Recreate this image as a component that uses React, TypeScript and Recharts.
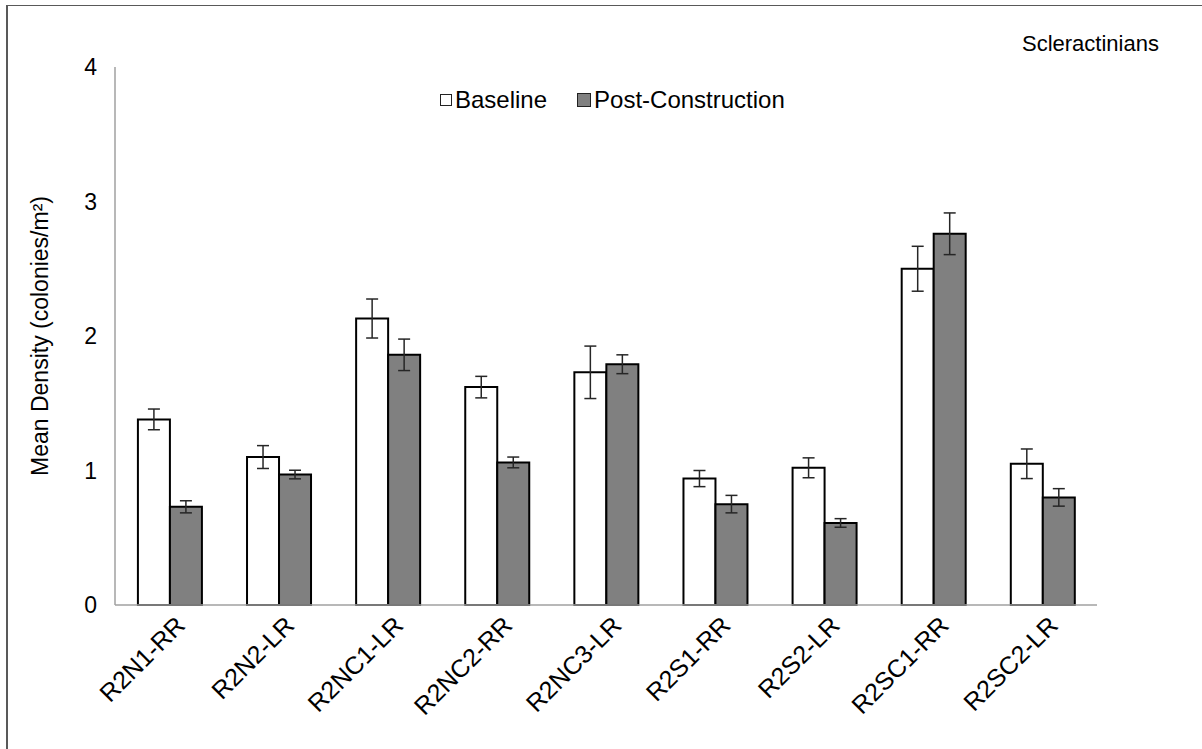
import React from 'react';
import { BarChart, Bar, XAxis, YAxis, ErrorBar } from 'recharts';

const categories = ['R2N1-RR', 'R2N2-LR', 'R2NC1-LR', 'R2NC2-RR', 'R2NC3-LR', 'R2S1-RR', 'R2S2-LR', 'R2SC1-RR', 'R2SC2-LR'];
const baseline = [1.38, 1.10, 2.13, 1.62, 1.73, 0.94, 1.02, 2.50, 1.05];
const baselineErr = [0.077, 0.085, 0.145, 0.08, 0.195, 0.06, 0.074, 0.167, 0.11];
const post = [0.73, 0.97, 1.86, 1.06, 1.79, 0.75, 0.61, 2.76, 0.80];
const postErr = [0.045, 0.032, 0.117, 0.04, 0.07, 0.065, 0.032, 0.155, 0.065];
const yTicks = [0, 1, 2, 3, 4];

const data = categories.map((c, i) => ({
  name: c,
  baseline: baseline[i],
  baselineErr: baselineErr[i],
  post: post[i],
  postErr: postErr[i],
}));

const FONT = '"Liberation Sans", Arial, sans-serif';

const XTick = (props: any) => {
  const { x, y, payload } = props;
  return (
    <g transform={`translate(${x + 17},${y + 20})`}>
      <text x={0} y={0} textAnchor="end" transform="rotate(-45)" fontSize={25} fontFamily={FONT} fill="#000">
        {payload.value}
      </text>
    </g>
  );
};

const YLabel = (props: any) => {
  const { viewBox } = props;
  const cx = 40;
  const cy = viewBox.y + viewBox.height / 2;
  return (
    <text x={cx} y={cy} transform={`rotate(-90, ${cx}, ${cy})`} textAnchor="middle" dominantBaseline="central" fontSize={23} fontFamily={FONT} fill="#000">
      Mean Density (colonies/m²)
    </text>
  );
};

export default function App() {
  return (
    <div style={{ position: 'absolute', left: 0, top: 0, width: 1202, height: 749, background: '#fff' }}>
      <div style={{ position: 'absolute', left: 6, top: 5, right: 0, bottom: 0, borderLeft: '2px solid #595959', borderTop: '1px solid #595959' }} />
      <div style={{ position: 'absolute', left: 1022, top: 31, fontFamily: FONT, fontSize: 22, color: '#000', whiteSpace: 'nowrap' }}>Scleractinians</div>
      <div style={{ position: 'absolute', left: 440, top: 86, display: 'flex', alignItems: 'center', fontFamily: FONT, fontSize: 24, color: '#000', whiteSpace: 'nowrap' }}>
        <span style={{ display: 'inline-block', width: 10, height: 10, border: '1.5px solid #222', background: '#fff', marginRight: 3 }} />
        <span>Baseline</span>
        <span style={{ display: 'inline-block', width: 12, height: 12, border: '1.5px solid #222', background: '#808080', marginLeft: 30, marginRight: 3 }} />
        <span>Post-Construction</span>
      </div>
      <div style={{ position: 'absolute', left: 0, top: 0 }}>
        <BarChart width={1202} height={749} data={data} margin={{ top: 67, right: 105, left: 0, bottom: 0 }} barCategoryGap="21%" barGap={0}>
          <XAxis dataKey="name" height={144} tick={<XTick />} tickLine={false} tickSize={0} axisLine={{ stroke: '#a0a0a0', strokeWidth: 1.5 }} interval={0} />
          <YAxis domain={[0, 4]} ticks={yTicks} width={115} tickLine={false} tickSize={0} tickMargin={18} axisLine={{ stroke: '#a0a0a0', strokeWidth: 1.5 }} tick={{ fontSize: 23, fontFamily: FONT, fill: '#000' }} label={<YLabel />} />
          <Bar dataKey="baseline" name="Baseline" fill="#ffffff" stroke="#000" strokeWidth={2} isAnimationActive={false}>
            <ErrorBar dataKey="baselineErr" width={6} stroke="#262626" strokeWidth={1.5} direction="y" />
          </Bar>
          <Bar dataKey="post" name="Post-Construction" fill="#808080" stroke="#000" strokeWidth={2} isAnimationActive={false}>
            <ErrorBar dataKey="postErr" width={6} stroke="#262626" strokeWidth={1.5} direction="y" />
          </Bar>
        </BarChart>
      </div>
    </div>
  );
}
